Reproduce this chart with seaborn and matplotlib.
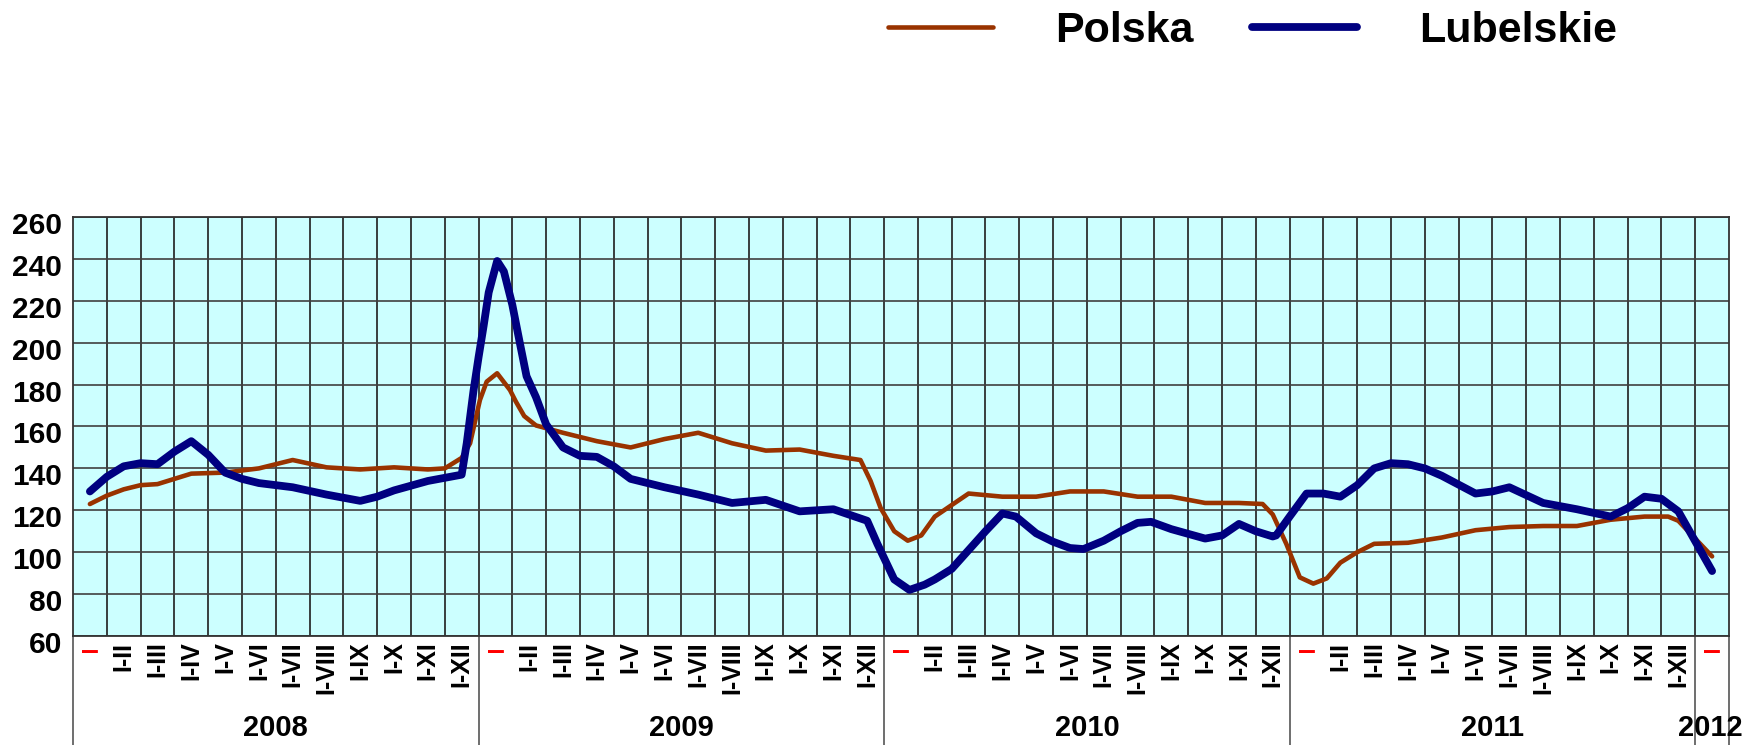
import matplotlib
matplotlib.use("Agg")
import matplotlib.pyplot as plt
import matplotlib.transforms as mtransforms
import seaborn as sns

# miesiace narastajaco 2008-2012, kolumna i ma srodek w i + 0.5
month_names = ["", "I-II", "I-III", "I-IV", "I-V", "I-VI", "I-VII", "I-VIII",
               "I-IX", "I-X", "I-XI", "I-XII"]
years = ["2008", "2009", "2010", "2011", "2012"]
n_cols = 49

# Polska - odczyt z wykresu (numer miesiaca, wartosc)
polska_m = [0, 0.5, 1, 1.5, 2, 2.5, 3, 4, 5, 6, 7, 8, 9, 10, 10.5, 11, 11.25,
            11.54, 11.74, 12.05, 12.43, 12.6, 12.85, 13.2, 14, 15, 16, 17, 18,
            19, 20, 21, 22, 22.8, 23.1, 23.4, 23.8, 24.2, 24.6, 25, 25.5, 26,
            27, 28, 29, 30, 31, 32, 33, 34, 34.7, 35, 35.4, 35.8, 36.2, 36.6,
            37, 37.5, 38, 39, 40, 41, 42, 43, 44, 45, 46, 46.7, 47, 48]
polska_v = [123, 127, 130, 132, 132.5, 135, 137.5, 138, 140, 144, 140.5,
            139.5, 140.5, 139.5, 140, 145, 152, 172.6, 181.4, 185.4, 177.4,
            172, 165, 160.5, 157, 153, 150, 154, 157, 152, 148.5, 149, 146,
            144, 134, 121, 110, 105.5, 108, 117, 122.5, 128, 126.5, 126.5,
            129, 129, 126.5, 126.5, 123.5, 123.5, 123, 118, 104, 88, 85, 87.5,
            95, 100, 104, 104.5, 107, 110.5, 112, 112.5, 112.5, 115.5, 117,
            117, 115, 98]

# Lubelskie
lub_m = [0, 0.5, 1, 1.5, 2, 2.5, 3, 3.5, 4, 4.5, 5, 6, 7, 8, 8.5, 9, 10, 11,
         11.15, 11.35, 11.5, 11.65, 11.8, 12.05, 12.25, 12.5, 12.72, 12.92,
         13.2, 13.5, 14, 14.5, 15, 15.5, 16, 17, 18, 19, 20, 21, 22, 23,
         23.3, 23.8, 24.25, 24.7, 25, 25.5, 26, 26.5, 27, 27.4, 28, 28.5, 29,
         29.4, 30, 30.5, 31, 31.4, 32, 33, 33.5, 34, 34.5, 35, 35.1, 35.5,
         36, 36.5, 37, 37.5, 38, 38.5, 39, 39.5, 40, 41, 41.5, 42, 43, 44,
         45, 45.5, 46, 46.5, 47, 48]
lub_v = [129, 136, 141, 142.5, 142, 148, 153, 146.5, 138, 135, 133, 131,
         127.5, 124.5, 126.5, 129.5, 134, 137, 152, 177, 193, 208, 224, 239,
         234, 218, 200, 184, 174, 161, 150, 146, 145.5, 141, 135, 131, 127.5,
         123.5, 125, 119.5, 120.5, 115, 104, 87, 82, 84.5, 87, 92, 101, 110,
         118.5, 117, 109, 105, 102, 101.5, 105.5, 110, 114, 114.5, 111,
         106.5, 108, 113.5, 110, 107.5, 108, 117, 128, 128, 126.5, 132, 140,
         142.5, 142, 140, 136.5, 128, 129, 131, 123.5, 120.5, 117, 121,
         126.5, 125.5, 119.5, 91]

W, H = 1756, 745
sns.set_style("white")
plt.rcParams['font.family'] = ['Liberation Sans', 'DejaVu Sans']
plt.rcParams['font.weight'] = 'bold'
plt.rcParams['text.color'] = 'black'
plt.rcParams['xtick.color'] = 'black'
plt.rcParams['ytick.color'] = 'black'
plt.rcParams['lines.solid_joinstyle'] = 'round'

fig = plt.figure(figsize=(W / 100, H / 100), dpi=100)
ax = fig.add_axes([73 / W, 1 - 636 / H, (1729 - 73) / W, 419 / H])
ax.set_facecolor("#CCFFFF")

sns.lineplot(x=[m + 0.5 for m in polska_m], y=polska_v, ax=ax, color="#993300",
             linewidth=3.3, label="Polska", sort=False)
sns.lineplot(x=[m + 0.5 for m in lub_m], y=lub_v, ax=ax, color="#000080",
             linewidth=5.6, label="Lubelskie", sort=False)
handles, labels = ax.get_legend_handles_labels()
ax.get_legend().remove()

ax.set_xlim(0, n_cols)
ax.set_ylim(60, 260)
ax.set_xlabel("")
ax.set_ylabel("")

# os Y
ax.set_yticks(range(60, 261, 20))
ax.tick_params(axis="y", length=0, pad=8, labelsize=21.5, labelcolor="black")
shift = mtransforms.ScaledTranslation(0, -6 / 100, fig.dpi_scale_trans)
for lab in ax.get_yticklabels():
    lab.set_fontweight("bold")
    lab.set_transform(lab.get_transform() + shift)

# os X - etykiety miesiecy w srodkach kolumn
centers = [i + 0.5 for i in range(n_cols) if i % 12 != 0]
names = [month_names[i % 12] for i in range(n_cols) if i % 12 != 0]
ax.set_xticks(centers)
ax.set_xticklabels(names, rotation=90, fontsize=18, fontweight="bold",
                   va="top", ha="center", color="black")
ax.tick_params(axis="x", which="major", length=0, pad=4)
ax.set_xticks(range(1, n_cols), minor=True)
ax.tick_params(axis="x", which="minor", length=41, width=1.2, color="#333333",
               direction="out")

ax.grid(True, which="minor", axis="x", color="#1e1e1e", linewidth=1.2)
ax.grid(True, which="major", axis="y", color="#404040", linewidth=1.2)
ax.grid(False, which="major", axis="x")
for s in ax.spines.values():
    s.set_color("#333333")
    s.set_linewidth(1.3)

# linie lat i podpisy
tr = ax.get_xaxis_transform()
year_edges = [0, 12, 24, 36, 48, 49]
ax.vlines(year_edges, -110 / 419, 0, transform=tr, clip_on=False,
          color="#555555", linewidth=1.2)
for k in range(len(years)):
    ax.text(k * 12 + 0.5, -16 / 419, "\u2013", transform=tr, color="#FF0000",
            fontsize=23, fontweight="bold", ha="center", va="center")
year_pos = [6, 18, 30, 42, 48.45]
for pos, y in zip(year_pos, years):
    ax.text(pos, -92 / 419, y, transform=tr, fontsize=21, fontweight="bold",
            ha="center", va="center", color="black")

fig.legend(handles, labels, loc="center left",
           bbox_to_anchor=(888 / W, 1 - 31 / H), ncol=2, frameon=False,
           prop={"size": 31, "weight": "bold"}, handlelength=2.44,
           handletextpad=1.44, columnspacing=1.37, borderpad=0,
           borderaxespad=0, labelcolor="black")

fig.savefig("out.png", dpi=100)
